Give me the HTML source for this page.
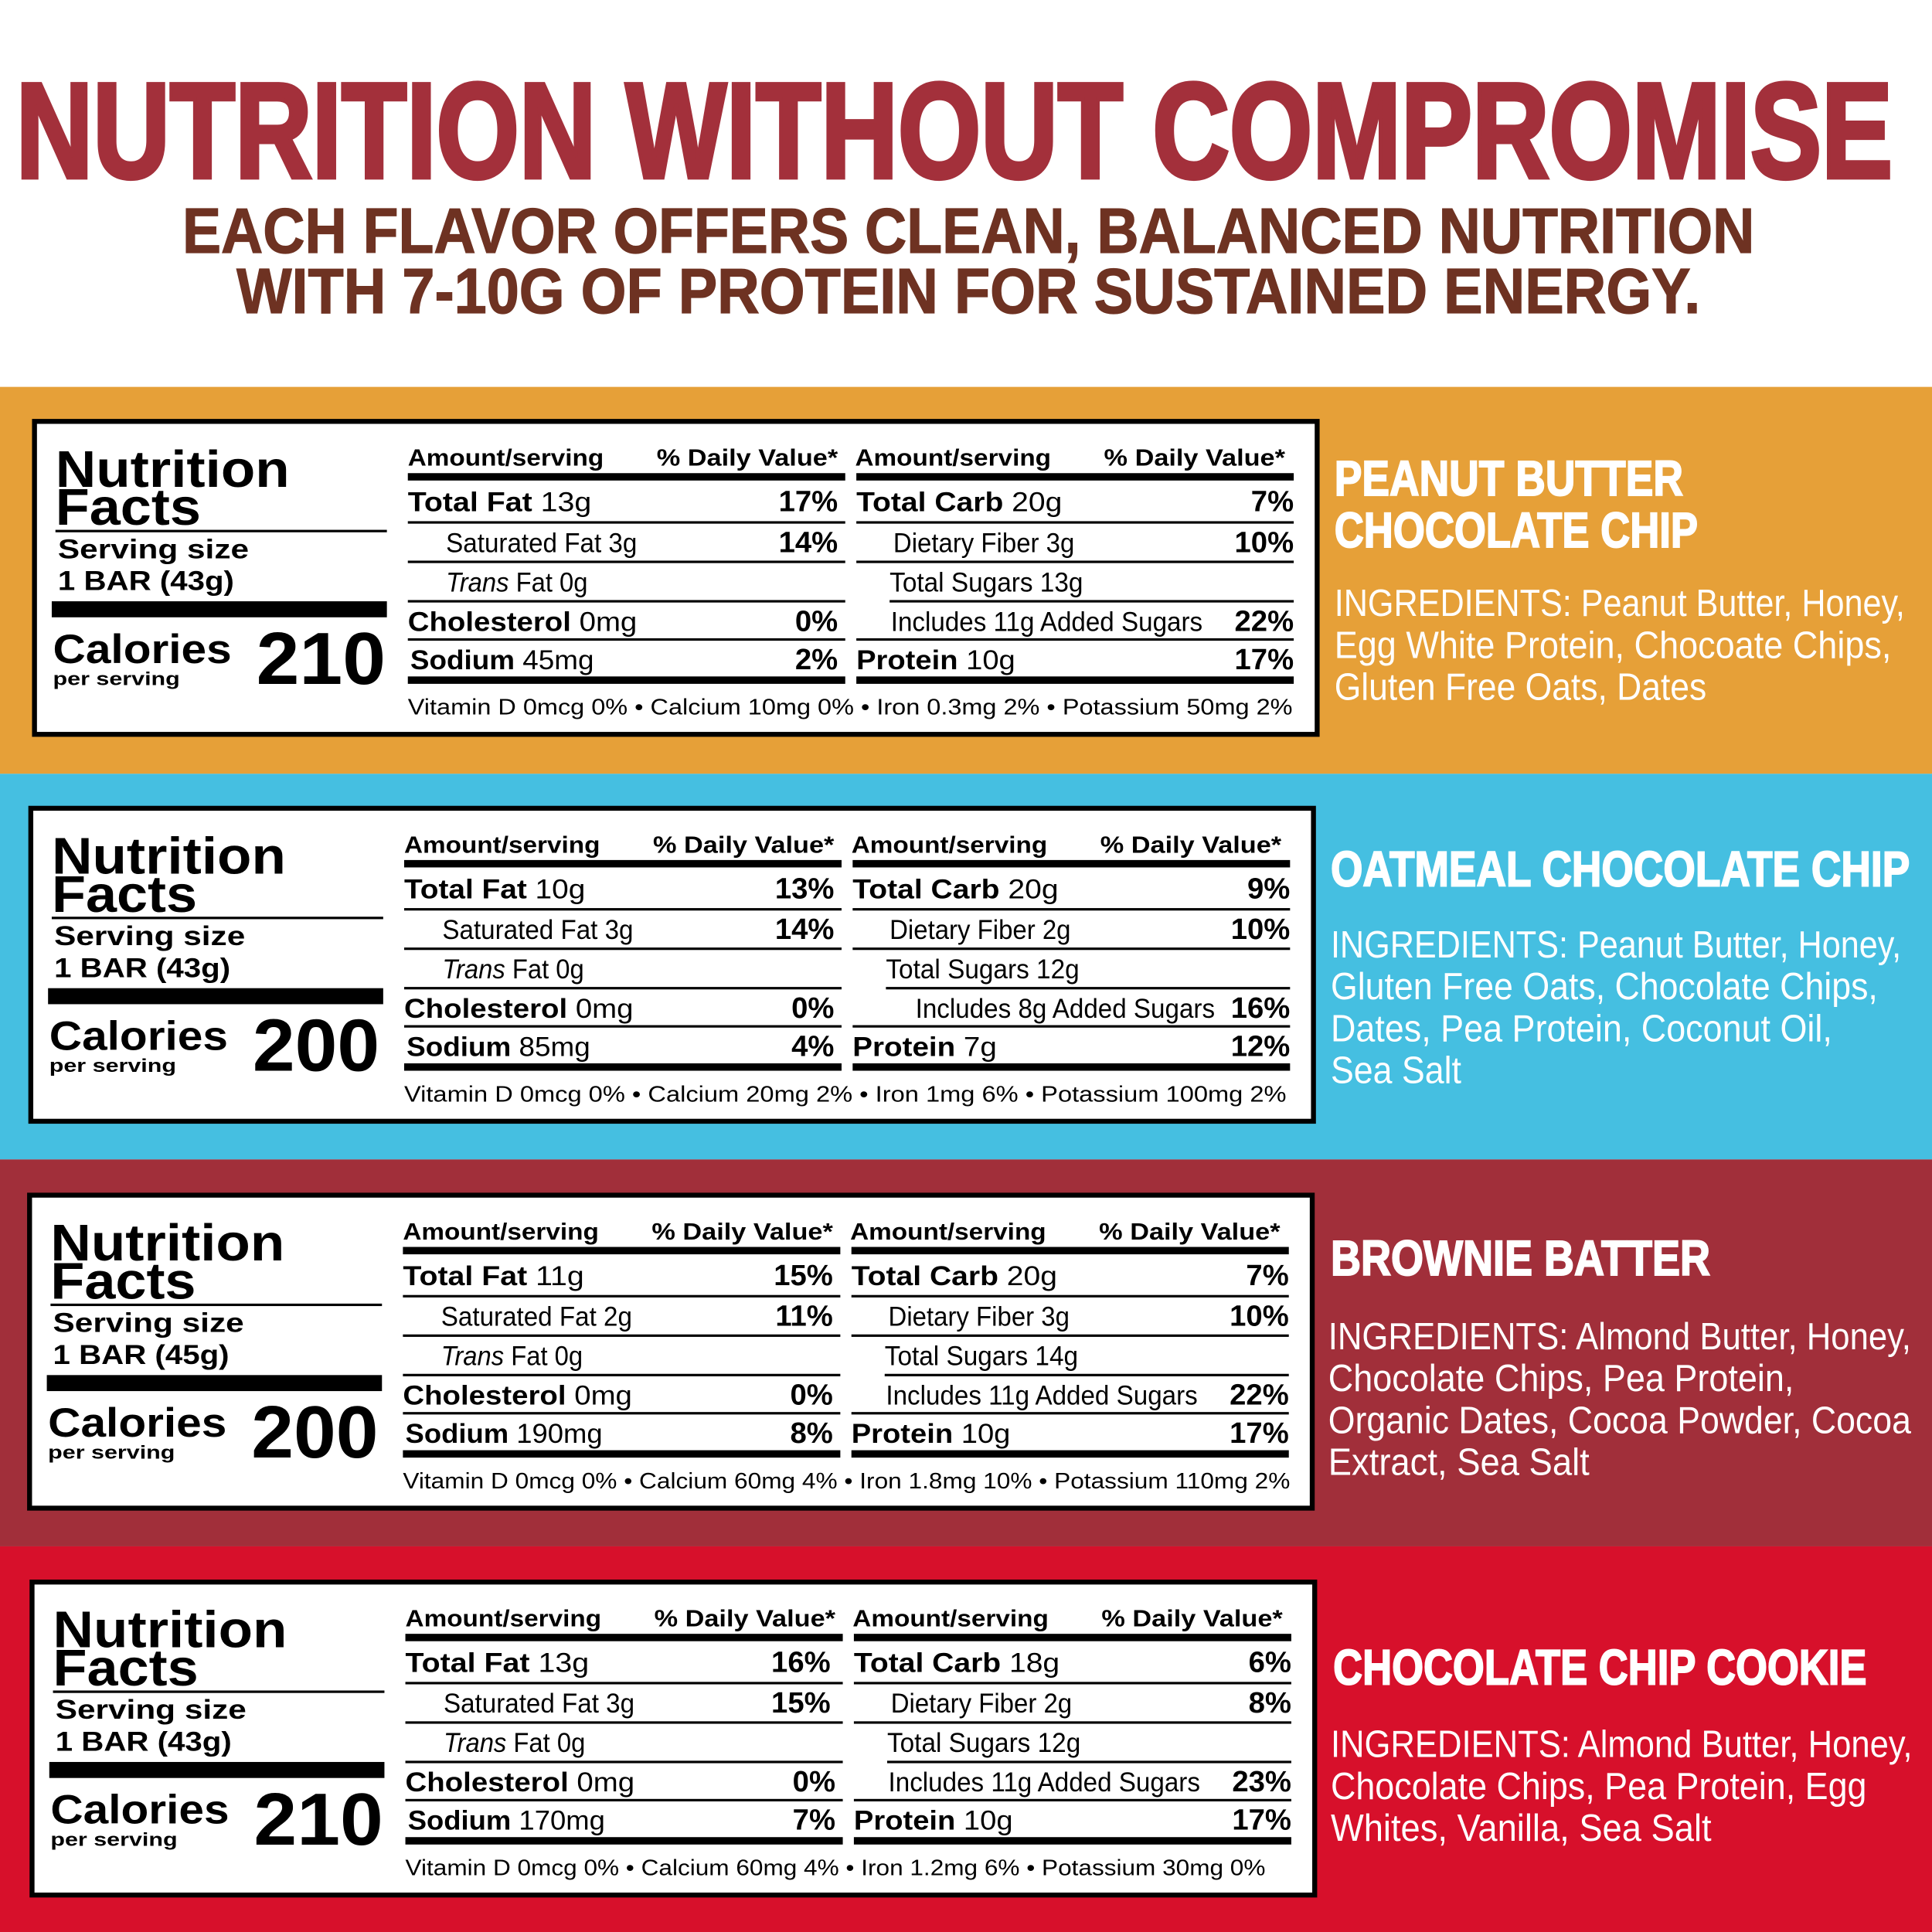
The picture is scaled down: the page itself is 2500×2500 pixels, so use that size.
<!DOCTYPE html>
<html><head><meta charset="utf-8"><style>
html,body{margin:0;padding:0;background:#fff}
svg{display:block}
text{font-family:"Liberation Sans",sans-serif}
.b{font-weight:bold}
.h{font-size:19px;font-weight:bold}
.r{font-size:22px}
.p{font-size:24px;font-weight:bold;text-anchor:end}
.f{font-size:18px}
.it{font-size:31px;fill:#fff}
.tt{font-size:40px;fill:#fff;font-weight:bold;stroke:#fff;stroke-width:1.2}
</style></head><body>
<svg width="2500" height="2500" viewBox="0 0 1568 1568" xmlns="http://www.w3.org/2000/svg">
<rect width="1568" height="1568" fill="#fff"/>
<text x="13" y="144" font-size="110" font-weight="bold" fill="#A3303B" stroke="#A3303B" stroke-width="3.5" textLength="1523" lengthAdjust="spacingAndGlyphs">NUTRITION WITHOUT COMPROMISE</text>
<text x="148" y="205" font-size="52" font-weight="bold" fill="#6E3222" stroke="#6E3222" stroke-width="0.8" textLength="1276" lengthAdjust="spacingAndGlyphs">EACH FLAVOR OFFERS CLEAN, BALANCED NUTRITION</text>
<text x="192" y="254" font-size="52" font-weight="bold" fill="#6E3222" stroke="#6E3222" stroke-width="0.8" textLength="1188" lengthAdjust="spacingAndGlyphs">WITH 7-10G OF PROTEIN FOR SUSTAINED ENERGY.</text>

<rect x="0" y="314" width="1568" height="314" fill="#E6A038"/>
<rect x="0" y="628" width="1568" height="313" fill="#45BFE1"/>
<rect x="0" y="941" width="1568" height="314" fill="#A12F3A"/>
<rect x="0" y="1255" width="1568" height="313" fill="#D7102B"/>

<defs>
<g id="frame">
<rect x="28" y="342" width="1041" height="254" fill="#fff" stroke="#000" stroke-width="4"/>
<text x="45" y="395" font-size="42" class="b" textLength="190" lengthAdjust="spacingAndGlyphs">Nutrition</text>
<text x="45" y="426" font-size="42" class="b" textLength="118" lengthAdjust="spacingAndGlyphs">Facts</text>
<rect x="45" y="430" width="269" height="2" fill="#000"/>
<text x="47" y="453" font-size="22" class="b" textLength="155" lengthAdjust="spacingAndGlyphs">Serving size</text>
<rect x="42" y="488" width="272" height="13" fill="#000"/>
<text x="43" y="538" font-size="33" class="b" textLength="145" lengthAdjust="spacingAndGlyphs">Calories</text>
<text x="43" y="556" font-size="15" class="b" textLength="103" lengthAdjust="spacingAndGlyphs">per serving</text>
<text x="331" y="378" class="h" textLength="159" lengthAdjust="spacingAndGlyphs">Amount/serving</text>
<text x="533" y="378" class="h" textLength="147" lengthAdjust="spacingAndGlyphs">% Daily Value*</text>
<text x="694" y="378" class="h" textLength="159" lengthAdjust="spacingAndGlyphs">Amount/serving</text>
<text x="896" y="378" class="h" textLength="147" lengthAdjust="spacingAndGlyphs">% Daily Value*</text>
<rect x="331" y="384" width="355" height="6" fill="#000"/>
<rect x="695" y="384" width="355" height="6" fill="#000"/>
<rect x="331" y="423" width="355" height="2" fill="#000"/>
<rect x="695" y="423" width="355" height="2" fill="#000"/>
<rect x="331" y="455" width="355" height="2" fill="#000"/>
<rect x="695" y="455" width="355" height="2" fill="#000"/>
<rect x="331" y="487" width="355" height="2" fill="#000"/>
<rect x="722" y="487" width="328" height="2" fill="#000"/>
<rect x="331" y="518" width="355" height="2" fill="#000"/>
<rect x="695" y="518" width="355" height="2" fill="#000"/>
<rect x="331" y="549" width="355" height="6" fill="#000"/>
<rect x="695" y="549" width="355" height="6" fill="#000"/>
<text x="362" y="480" class="r" textLength="115" lengthAdjust="spacingAndGlyphs"><tspan font-style="italic">Trans</tspan> Fat 0g</text>
</g>
</defs>

<!-- Panel 1 -->
<g>
<use href="#frame"/>
<text x="47" y="479" font-size="22" class="b" textLength="143" lengthAdjust="spacingAndGlyphs">1 BAR (43g)</text>
<text x="208" y="555" font-size="60" class="b" textLength="105" lengthAdjust="spacingAndGlyphs">210</text>
<text x="331" y="415" class="r" textLength="149" lengthAdjust="spacingAndGlyphs"><tspan class="b">Total Fat</tspan> 13g</text>
<text x="680" y="415" class="p">17%</text>
<text x="362" y="448" class="r" textLength="155" lengthAdjust="spacingAndGlyphs">Saturated Fat 3g</text>
<text x="680" y="448" class="p">14%</text>
<text x="331" y="512" class="r" textLength="186" lengthAdjust="spacingAndGlyphs"><tspan class="b">Cholesterol</tspan> 0mg</text>
<text x="680" y="512" class="p">0%</text>
<text x="333" y="543" class="r" textLength="149" lengthAdjust="spacingAndGlyphs"><tspan class="b">Sodium</tspan> 45mg</text>
<text x="680" y="543" class="p">2%</text>
<text x="695" y="415" class="r" textLength="167" lengthAdjust="spacingAndGlyphs"><tspan class="b">Total Carb</tspan> 20g</text>
<text x="1050" y="415" class="p">7%</text>
<text x="725" y="448" class="r" textLength="147" lengthAdjust="spacingAndGlyphs">Dietary Fiber 3g</text>
<text x="1050" y="448" class="p">10%</text>
<text x="722" y="480" class="r" textLength="157" lengthAdjust="spacingAndGlyphs">Total Sugars 13g</text>
<text x="723" y="512" class="r" textLength="253" lengthAdjust="spacingAndGlyphs">Includes 11g Added Sugars</text>
<text x="1050" y="512" class="p">22%</text>
<text x="695" y="543" class="r" textLength="129" lengthAdjust="spacingAndGlyphs"><tspan class="b">Protein</tspan> 10g</text>
<text x="1050" y="543" class="p">17%</text>
<text x="331" y="580" class="f" textLength="718" lengthAdjust="spacingAndGlyphs">Vitamin D 0mcg 0% • Calcium 10mg 0% • Iron 0.3mg 2% • Potassium 50mg 2%</text>
</g>

<!-- Panel 2 -->
<g transform="translate(-3,314)">
<use href="#frame"/>
<text x="47" y="479" font-size="22" class="b" textLength="143" lengthAdjust="spacingAndGlyphs">1 BAR (43g)</text>
<text x="208" y="555" font-size="60" class="b" textLength="103" lengthAdjust="spacingAndGlyphs">200</text>
<text x="331" y="415" class="r" textLength="147" lengthAdjust="spacingAndGlyphs"><tspan class="b">Total Fat</tspan> 10g</text>
<text x="680" y="415" class="p">13%</text>
<text x="362" y="448" class="r" textLength="155" lengthAdjust="spacingAndGlyphs">Saturated Fat 3g</text>
<text x="680" y="448" class="p">14%</text>
<text x="331" y="512" class="r" textLength="186" lengthAdjust="spacingAndGlyphs"><tspan class="b">Cholesterol</tspan> 0mg</text>
<text x="680" y="512" class="p">0%</text>
<text x="333" y="543" class="r" textLength="149" lengthAdjust="spacingAndGlyphs"><tspan class="b">Sodium</tspan> 85mg</text>
<text x="680" y="543" class="p">4%</text>
<text x="695" y="415" class="r" textLength="167" lengthAdjust="spacingAndGlyphs"><tspan class="b">Total Carb</tspan> 20g</text>
<text x="1050" y="415" class="p">9%</text>
<text x="725" y="448" class="r" textLength="147" lengthAdjust="spacingAndGlyphs">Dietary Fiber 2g</text>
<text x="1050" y="448" class="p">10%</text>
<text x="722" y="480" class="r" textLength="157" lengthAdjust="spacingAndGlyphs">Total Sugars 12g</text>
<text x="746" y="512" class="r" textLength="243" lengthAdjust="spacingAndGlyphs">Includes 8g Added Sugars</text>
<text x="1050" y="512" class="p">16%</text>
<text x="695" y="543" class="r" textLength="117" lengthAdjust="spacingAndGlyphs"><tspan class="b">Protein</tspan> 7g</text>
<text x="1050" y="543" class="p">12%</text>
<text x="331" y="580" class="f" textLength="716" lengthAdjust="spacingAndGlyphs">Vitamin D 0mcg 0% • Calcium 20mg 2% • Iron 1mg 6% • Potassium 100mg 2%</text>
</g>

<!-- Panel 3 -->
<g transform="translate(-4,628)">
<use href="#frame"/>
<text x="47" y="479" font-size="22" class="b" textLength="143" lengthAdjust="spacingAndGlyphs">1 BAR (45g)</text>
<text x="208" y="555" font-size="60" class="b" textLength="103" lengthAdjust="spacingAndGlyphs">200</text>
<text x="331" y="415" class="r" textLength="147" lengthAdjust="spacingAndGlyphs"><tspan class="b">Total Fat</tspan> 11g</text>
<text x="680" y="415" class="p">15%</text>
<text x="362" y="448" class="r" textLength="155" lengthAdjust="spacingAndGlyphs">Saturated Fat 2g</text>
<text x="680" y="448" class="p">11%</text>
<text x="331" y="512" class="r" textLength="186" lengthAdjust="spacingAndGlyphs"><tspan class="b">Cholesterol</tspan> 0mg</text>
<text x="680" y="512" class="p">0%</text>
<text x="333" y="543" class="r" textLength="160" lengthAdjust="spacingAndGlyphs"><tspan class="b">Sodium</tspan> 190mg</text>
<text x="680" y="543" class="p">8%</text>
<text x="695" y="415" class="r" textLength="167" lengthAdjust="spacingAndGlyphs"><tspan class="b">Total Carb</tspan> 20g</text>
<text x="1050" y="415" class="p">7%</text>
<text x="725" y="448" class="r" textLength="147" lengthAdjust="spacingAndGlyphs">Dietary Fiber 3g</text>
<text x="1050" y="448" class="p">10%</text>
<text x="722" y="480" class="r" textLength="157" lengthAdjust="spacingAndGlyphs">Total Sugars 14g</text>
<text x="723" y="512" class="r" textLength="253" lengthAdjust="spacingAndGlyphs">Includes 11g Added Sugars</text>
<text x="1050" y="512" class="p">22%</text>
<text x="695" y="543" class="r" textLength="129" lengthAdjust="spacingAndGlyphs"><tspan class="b">Protein</tspan> 10g</text>
<text x="1050" y="543" class="p">17%</text>
<text x="331" y="580" class="f" textLength="720" lengthAdjust="spacingAndGlyphs">Vitamin D 0mcg 0% • Calcium 60mg 4% • Iron 1.8mg 10% • Potassium 110mg 2%</text>
</g>

<!-- Panel 4 -->
<g transform="translate(-2,942)">
<use href="#frame"/>
<text x="47" y="479" font-size="22" class="b" textLength="143" lengthAdjust="spacingAndGlyphs">1 BAR (43g)</text>
<text x="208" y="555" font-size="60" class="b" textLength="105" lengthAdjust="spacingAndGlyphs">210</text>
<text x="331" y="415" class="r" textLength="149" lengthAdjust="spacingAndGlyphs"><tspan class="b">Total Fat</tspan> 13g</text>
<text x="676" y="415" class="p">16%</text>
<text x="362" y="448" class="r" textLength="155" lengthAdjust="spacingAndGlyphs">Saturated Fat 3g</text>
<text x="676" y="448" class="p">15%</text>
<text x="331" y="512" class="r" textLength="186" lengthAdjust="spacingAndGlyphs"><tspan class="b">Cholesterol</tspan> 0mg</text>
<text x="680" y="512" class="p">0%</text>
<text x="333" y="543" class="r" textLength="160" lengthAdjust="spacingAndGlyphs"><tspan class="b">Sodium</tspan> 170mg</text>
<text x="680" y="543" class="p">7%</text>
<text x="695" y="415" class="r" textLength="167" lengthAdjust="spacingAndGlyphs"><tspan class="b">Total Carb</tspan> 18g</text>
<text x="1050" y="415" class="p">6%</text>
<text x="725" y="448" class="r" textLength="147" lengthAdjust="spacingAndGlyphs">Dietary Fiber 2g</text>
<text x="1050" y="448" class="p">8%</text>
<text x="722" y="480" class="r" textLength="157" lengthAdjust="spacingAndGlyphs">Total Sugars 12g</text>
<text x="723" y="512" class="r" textLength="253" lengthAdjust="spacingAndGlyphs">Includes 11g Added Sugars</text>
<text x="1050" y="512" class="p">23%</text>
<text x="695" y="543" class="r" textLength="129" lengthAdjust="spacingAndGlyphs"><tspan class="b">Protein</tspan> 10g</text>
<text x="1050" y="543" class="p">17%</text>
<text x="331" y="580" class="f" textLength="698" lengthAdjust="spacingAndGlyphs">Vitamin D 0mcg 0% • Calcium 60mg 4% • Iron 1.2mg 6% • Potassium 30mg 0%</text>
</g>

<!-- Right side text -->
<text x="1083" y="402" class="tt" textLength="283" lengthAdjust="spacingAndGlyphs">PEANUT BUTTER</text>
<text x="1083" y="444" class="tt" textLength="295" lengthAdjust="spacingAndGlyphs">CHOCOLATE CHIP</text>
<text x="1083" y="500" class="it" textLength="463" lengthAdjust="spacingAndGlyphs">INGREDIENTS: Peanut Butter, Honey,</text>
<text x="1083" y="534" class="it" textLength="452" lengthAdjust="spacingAndGlyphs">Egg White Protein, Chocoate Chips,</text>
<text x="1083" y="568" class="it" textLength="302" lengthAdjust="spacingAndGlyphs">Gluten Free Oats, Dates</text>

<text x="1080" y="719" class="tt" textLength="470" lengthAdjust="spacingAndGlyphs">OATMEAL CHOCOLATE CHIP</text>
<text x="1080" y="777" class="it" textLength="463" lengthAdjust="spacingAndGlyphs">INGREDIENTS: Peanut Butter, Honey,</text>
<text x="1080" y="811" class="it" textLength="444" lengthAdjust="spacingAndGlyphs">Gluten Free Oats, Chocolate Chips,</text>
<text x="1080" y="845" class="it" textLength="407" lengthAdjust="spacingAndGlyphs">Dates, Pea Protein, Coconut Oil,</text>
<text x="1080" y="879" class="it" textLength="106" lengthAdjust="spacingAndGlyphs">Sea Salt</text>

<text x="1080" y="1035" class="tt" textLength="308" lengthAdjust="spacingAndGlyphs">BROWNIE BATTER</text>
<text x="1078" y="1095" class="it" textLength="473" lengthAdjust="spacingAndGlyphs">INGREDIENTS: Almond Butter, Honey,</text>
<text x="1078" y="1129" class="it" textLength="378" lengthAdjust="spacingAndGlyphs">Chocolate Chips, Pea Protein,</text>
<text x="1078" y="1163" class="it" textLength="473" lengthAdjust="spacingAndGlyphs">Organic Dates, Cocoa Powder, Cocoa</text>
<text x="1078" y="1197" class="it" textLength="212" lengthAdjust="spacingAndGlyphs">Extract, Sea Salt</text>

<text x="1082" y="1367" class="tt" textLength="433" lengthAdjust="spacingAndGlyphs">CHOCOLATE CHIP COOKIE</text>
<text x="1080" y="1426" class="it" textLength="472" lengthAdjust="spacingAndGlyphs">INGREDIENTS: Almond Butter, Honey,</text>
<text x="1080" y="1460" class="it" textLength="435" lengthAdjust="spacingAndGlyphs">Chocolate Chips, Pea Protein, Egg</text>
<text x="1080" y="1494" class="it" textLength="309" lengthAdjust="spacingAndGlyphs">Whites, Vanilla, Sea Salt</text>
</svg>
</body></html>
